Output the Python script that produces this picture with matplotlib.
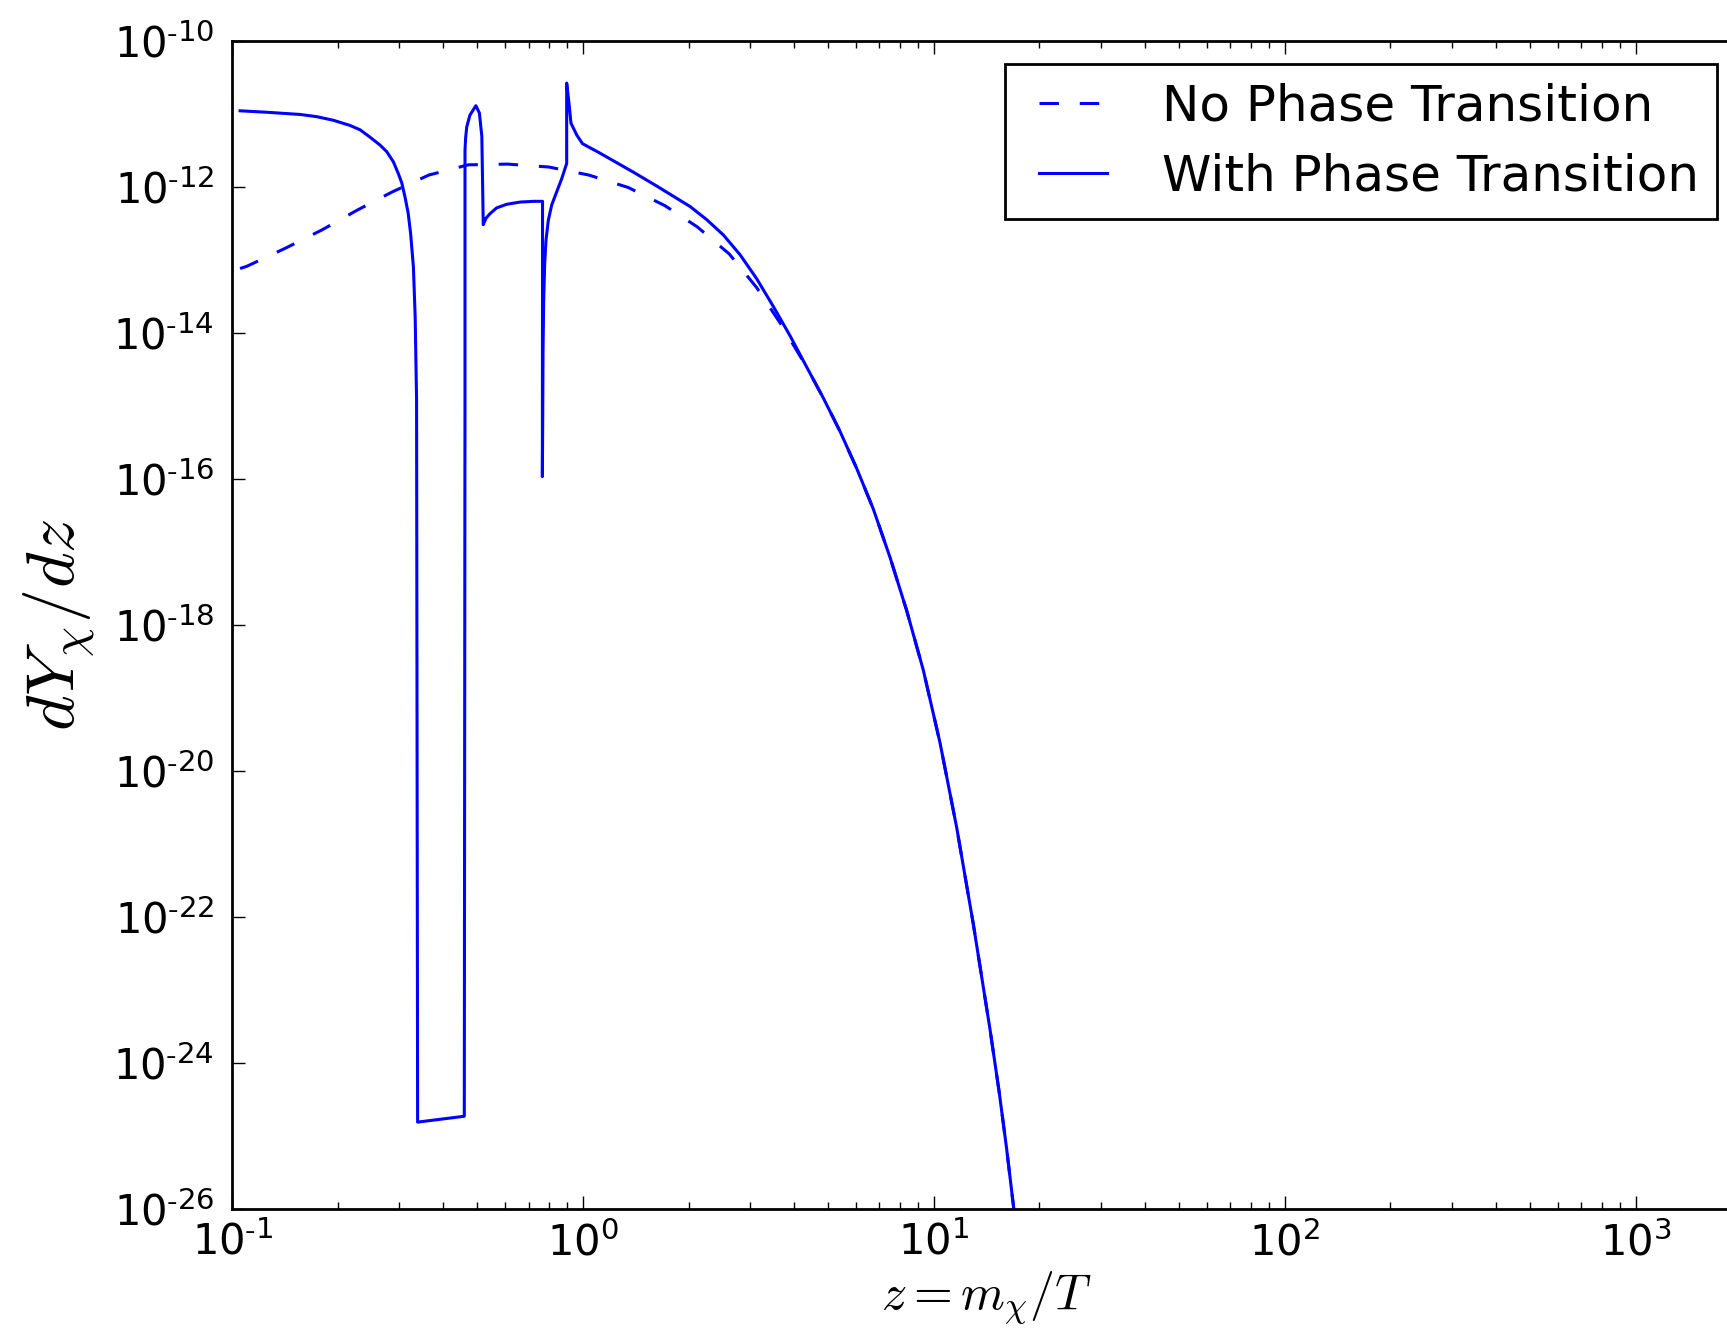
import numpy as np
import matplotlib
matplotlib.use('Agg')
import matplotlib.pyplot as plt
from matplotlib.ticker import FixedLocator, FuncFormatter, NullLocator, LogLocator
from matplotlib.lines import Line2D
from matplotlib.legend_handler import HandlerLine2D

plt.rcParams['mathtext.fontset'] = 'cm'
plt.rcParams['axes.unicode_minus'] = False
plt.rcParams['lines.scale_dashes'] = False

# ---- data (log10 values) ----
no_pt_log_z = [-0.977, -0.958, -0.847, -0.743, -0.643, -0.543, -0.439, -0.327, -0.215,
               -0.097, 0.017, 0.129, 0.234, 0.326, 0.417, 0.495, 0.564,
               0.6378, 0.6851, 0.7327, 0.7803, 0.8277, 0.8757, 0.9228, 0.9702, 1.0177,
               1.0652, 1.1127, 1.1602, 1.1867, 1.2077, 1.2285, 1.25]
no_pt_log_y = [-13.12, -13.09, -12.84, -12.59, -12.32, -12.07, -11.84, -11.70, -11.69,
               -11.73, -11.84, -12.01, -12.26, -12.55, -12.92, -13.38, -13.88,
               -14.47, -14.893, -15.35, -15.858, -16.415, -17.082, -17.806, -18.622, -19.615,
               -20.775, -22.101, -23.54, -24.412, -25.18, -26.02, -26.9]

with_pt_log_z = [-0.977, -0.901, -0.806, -0.759, -0.711, -0.664, -0.635, -0.607, -0.578,
                 -0.559, -0.540, -0.526, -0.516, -0.507, -0.498, -0.491, -0.483, -0.478,
                 -0.474, -0.471,
                 -0.338, -0.336, -0.336, -0.334, -0.331, -0.322, -0.305, -0.295, -0.288,
                 -0.284,
                 -0.276, -0.265, -0.246, -0.217, -0.179, -0.141, -0.115,
                 -0.1155, -0.1145, -0.1136, -0.1117, -0.1089, -0.1051, -0.0986, -0.0889,
                 -0.0747, -0.0604, -0.0462,
                 -0.0462, -0.0396, -0.0339, -0.0177, -0.0012, 0.0487, 0.0962, 0.1437,
                 0.2102, 0.2577, 0.3052, 0.3527, 0.4002, 0.4477, 0.4953, 0.5427, 0.5902,
                 0.6378, 0.6851, 0.7327, 0.7803, 0.8277, 0.8757, 0.9228, 0.9702, 1.0177,
                 1.0652, 1.1127, 1.1602, 1.1867, 1.2077, 1.2285, 1.25]
with_pt_log_y = [-10.96, -10.98, -11.01, -11.04, -11.09, -11.16, -11.22, -11.32, -11.43,
                 -11.52, -11.66, -11.82, -11.95, -12.14, -12.36, -12.64, -13.10, -13.78,
                 -14.92, -24.81,
                 -24.73, -14.92, -11.50, -11.32, -11.18, -11.02, -10.89, -10.99, -11.31,
                 -12.52,
                 -12.43, -12.37, -12.29, -12.24, -12.21, -12.20, -12.20,
                 -15.97, -15.15, -14.24, -13.55, -13.05, -12.73, -12.46, -12.25,
                 -12.07, -11.89, -11.68,
                 -10.58, -10.86, -11.13, -11.29, -11.41, -11.54, -11.67, -11.80,
                 -11.99, -12.13, -12.27, -12.45, -12.66, -12.93, -13.26, -13.64, -14.04,
                 -14.47, -14.893, -15.35, -15.858, -16.415, -17.082, -17.806, -18.622, -19.615,
                 -20.775, -22.101, -23.54, -24.412, -25.18, -26.02, -26.9]

x_tick_exps = [-1, 0, 1, 2, 3]
y_tick_exps = [-10, -12, -14, -16, -18, -20, -22, -24, -26]
labels = ['No Phase Transition', 'With Phase Transition']

# ---- figure ----
W, H = 1727, 1338
fig = plt.figure(figsize=(W / 100, H / 100), dpi=100)
x_min, x_max = 0.1, 2000.0
left_px, top_px, bot_px, decade_px = 232.0, 40.7, 1209.0, 350.9
width_px = decade_px * np.log10(x_max / x_min)
ax = fig.add_axes([left_px / W, 1 - bot_px / H, width_px / W, (bot_px - top_px) / H])

z_no = 10.0 ** np.array(no_pt_log_z)
y_no = 10.0 ** np.array(no_pt_log_y)
z_pt = 10.0 ** np.array(with_pt_log_z)
y_pt = 10.0 ** np.array(with_pt_log_y)

ax.plot(z_no, y_no, color='#0000ff', lw=2.2, dashes=(14, 15), label=labels[0])
ax.plot(z_pt, y_pt, color='#0000ff', lw=2.2, label=labels[1])

ax.set_xscale('log')
ax.set_yscale('log')
ax.set_xlim(x_min, x_max)
ax.set_ylim(1e-26, 1e-10)


def fmt(v, pos):
    e = int(round(np.log10(v)))
    if e < 0:
        return r'$\mathregular{10^{\text{-}%d}}$' % (-e)
    return r'$\mathregular{10^{%d}}$' % e


ax.xaxis.set_major_locator(FixedLocator([10.0 ** e for e in x_tick_exps]))
ax.xaxis.set_minor_locator(LogLocator(base=10, subs=np.arange(2, 10), numticks=50))
ax.yaxis.set_major_locator(FixedLocator([10.0 ** e for e in y_tick_exps]))
ax.yaxis.set_minor_locator(NullLocator())
ax.xaxis.set_major_formatter(FuncFormatter(fmt))
ax.yaxis.set_major_formatter(FuncFormatter(fmt))
ax.xaxis.set_minor_formatter(FuncFormatter(lambda v, p: ''))

ax.tick_params(which='both', direction='in', top=True, right=True, labelsize=30, width=1.0)
ax.tick_params(which='major', length=9.5)
ax.tick_params(which='minor', length=5)
ax.tick_params(axis='x', pad=9)
ax.tick_params(axis='y', pad=13)
for s in ax.spines.values():
    s.set_linewidth(2.0)

ax.set_xlabel(r'$z = m_\chi/T$', fontsize=36, labelpad=4)
ax.set_ylabel(r'$dY_\chi/dz$', fontsize=49, labelpad=12)

leg = ax.legend(loc='upper right', bbox_to_anchor=(1717 / W, 1 - 64 / H),
                bbox_transform=fig.transFigure, fontsize=36, handlelength=1.66,
                handletextpad=1.1, borderpad=0.37, labelspacing=0.44,
                fancybox=False, framealpha=1, edgecolor='black', borderaxespad=0,
                handler_map={Line2D: HandlerLine2D(xpad=0.3)})
leg.get_frame().set_linewidth(2.0)

fig.savefig('out.png', dpi=100)
